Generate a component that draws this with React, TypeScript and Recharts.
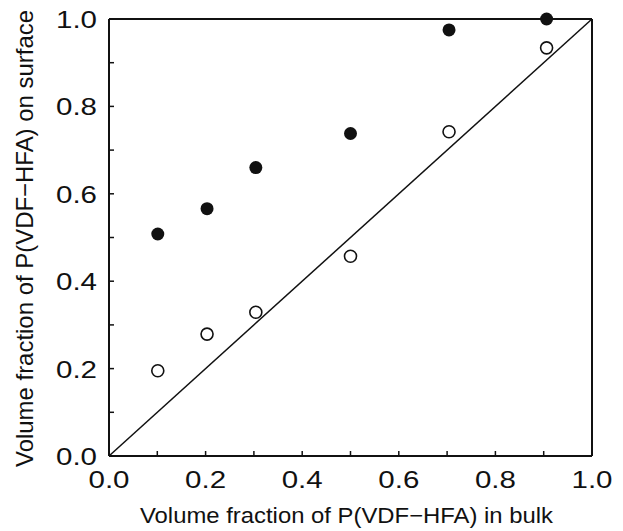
import { Label, ReferenceLine, Scatter, ScatterChart, XAxis, YAxis } from 'recharts'

const INK = '#111111'
const FONT = '"Liberation Sans", Arial, Helvetica, sans-serif'

// tick positions every 0.1, labels only every 0.2
const axisTicks = [0, 0.1, 0.2, 0.3, 0.4, 0.5, 0.6, 0.7, 0.8, 0.9, 1.0]

// volume fraction in bulk (x)
const bulkFraction = [0.101, 0.203, 0.304, 0.5, 0.704, 0.906]
// volume fraction on surface (y), filled symbols
const surfaceFilled = [0.508, 0.566, 0.66, 0.738, 0.975, 1.0]
// volume fraction on surface (y), open symbols
const surfaceOpen = [0.195, 0.279, 0.329, 0.457, 0.742, 0.934]
// y = x reference line
const diagonal = [0, 1]

const filledData = bulkFraction.map((x, i) => ({ x, y: surfaceFilled[i] }))
const openData = bulkFraction.map((x, i) => ({ x, y: surfaceOpen[i] }))
const diagData = diagonal.map((v) => ({ x: v, y: v }))

const isMajor = (v: number) => Math.round(v * 10) % 2 === 0

const TickText = ({ x, y, anchor, value }: any) => (
  <text
    x={x}
    y={y}
    textAnchor={anchor}
    dominantBaseline='central'
    fontSize={23.5}
    fontFamily={FONT}
    fill={INK}
    textLength={41}
    lengthAdjust='spacingAndGlyphs'
  >
    {value.toFixed(1)}
  </text>
)

const XTick = (props: any) => {
  const { x, y, payload } = props
  return (
    <g>
      <line x1={x} x2={x} y1={y} y2={y - 5} stroke={INK} strokeWidth={1.5} />
      {isMajor(payload.value) && (
        <TickText x={x} y={y + 24} anchor='middle' value={payload.value} />
      )}
    </g>
  )
}

const YTick = (props: any) => {
  const { x, y, payload } = props
  return (
    <g>
      <line x1={x} x2={x + 5} y1={y} y2={y} stroke={INK} strokeWidth={1.5} />
      {isMajor(payload.value) && (
        <TickText x={x - 12} y={y + 1} anchor='end' value={payload.value} />
      )}
    </g>
  )
}

const FilledDot = (props: any) => (
  <circle cx={props.cx} cy={props.cy} r={6.5} fill={INK} />
)

const OpenDot = (props: any) => (
  <circle
    cx={props.cx}
    cy={props.cy}
    r={6}
    fill='#ffffff'
    stroke={INK}
    strokeWidth={1.6}
  />
)

export default function App() {
  return (
    <div style={{ position: 'absolute', left: 0, top: 0, background: '#fff' }}>
      <ScatterChart
        width={623}
        height={531}
        margin={{ top: 19, right: 31, bottom: 0, left: 0 }}
      >
        <XAxis
          type='number'
          dataKey='x'
          domain={[0, 1]}
          ticks={axisTicks}
          interval={0}
          height={75}
          tickSize={0}
          tickMargin={0}
          tickLine={false}
          tick={<XTick />}
          axisLine={{ stroke: INK, strokeWidth: 2 }}
        >
          <Label
            content={() => (
              <text
                x={346.5}
                y={515}
                textAnchor='middle'
                dominantBaseline='central'
                fontSize={22}
                fontFamily={FONT}
                fill={INK}
                textLength={413}
                lengthAdjust='spacingAndGlyphs'
              >
                Volume fraction of P(VDF−HFA) in bulk
              </text>
            )}
          />
        </XAxis>
        <YAxis
          type='number'
          dataKey='y'
          domain={[0, 1]}
          ticks={axisTicks}
          interval={0}
          width={109}
          tickSize={0}
          tickMargin={0}
          tickLine={false}
          tick={<YTick />}
          axisLine={{ stroke: INK, strokeWidth: 2 }}
        >
          <Label
            content={() => (
              <text
                x={24}
                y={238.5}
                transform='rotate(-90 24 238.5)'
                textAnchor='middle'
                dominantBaseline='central'
                fontSize={24}
                fontFamily={FONT}
                fill={INK}
                textLength={457}
                lengthAdjust='spacingAndGlyphs'
              >
                Volume fraction of P(VDF−HFA) on surface
              </text>
            )}
          />
        </YAxis>
        <ReferenceLine y={1} stroke={INK} strokeWidth={2} />
        <ReferenceLine x={1} stroke={INK} strokeWidth={2} />
        <Scatter
          data={diagData}
          line={{ stroke: INK, strokeWidth: 1.5 }}
          shape={() => <g />}
          isAnimationActive={false}
        />
        <Scatter data={openData} shape={OpenDot} isAnimationActive={false} />
        <Scatter data={filledData} shape={FilledDot} isAnimationActive={false} />
      </ScatterChart>
    </div>
  )
}
